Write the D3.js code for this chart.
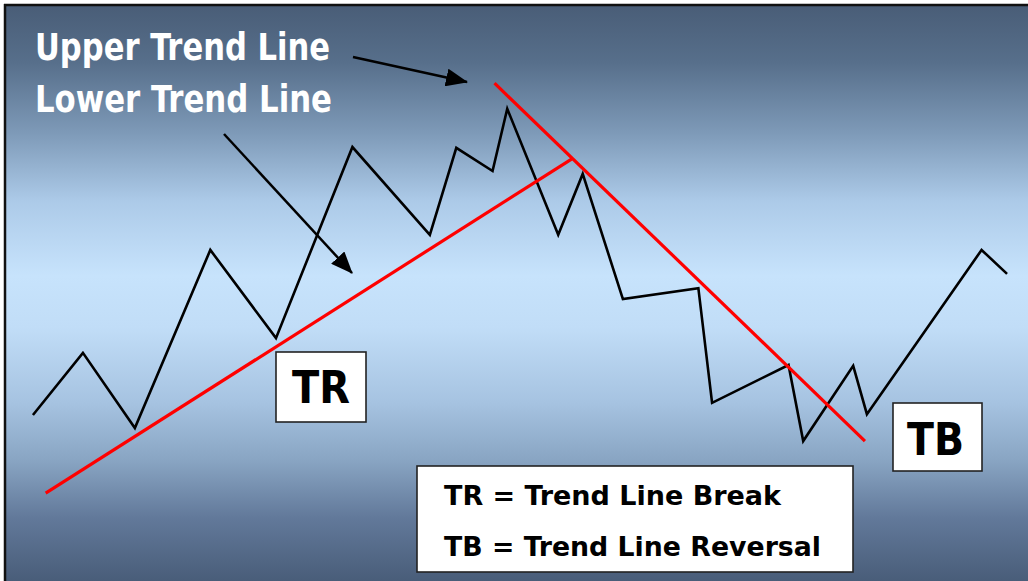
<!DOCTYPE html>
<html>
<head>
<meta charset="utf-8">
<script src="https://cdn.jsdelivr.net/npm/d3@7"></script>
<style>
  html, body { margin: 0; padding: 0; background: #fff; }
  svg { display: block; }
  .label { font-family: "DejaVu Sans Condensed", "DejaVu Sans", Verdana, sans-serif; font-weight: bold; }
</style>
</head>
<body>
<div id="chart"></div>
<script>
  // price path (time units, price units)
  const priceX = [0.3, 5.4, 10.7, 18.4, 25.1, 32.9, 40.8, 43.5, 47.2, 48.7, 53.9, 56.4, 60.5, 68.2, 69.6, 77.4, 78.9, 84.0, 85.4, 97.1, 99.7];
  const priceY = [25.0, 39.8, 21.9, 64.3, 43.3, 88.8, 67.9, 88.6, 83.1, 97.9, 67.9, 82.4, 52.6, 55.2, 27.9, 36.9, 18.8, 36.7, 25.2, 64.3, 58.6];

  // trend lines: [x0, y0, x1, y1]
  const lowerTrend = [1.6, 6.4, 55.3, 86.0];
  const upperTrend = [47.4, 104.0, 85.2, 18.8];

  const labelNames = ["Upper Trend Line", "Lower Trend Line"];
  const signalNames = ["TR", "TB"];
  const legendLines = ["TR = Trend Line Break", "TB = Trend Line Reversal"];

  const W = 1028, H = 581;

  const x = d3.scaleLinear().domain([0, 100]).range([30, 1010]);
  const y = d3.scaleLinear().domain([0, 100]).range([520, 100]);

  const svg = d3.select("#chart").append("svg")
    .attr("width", W)
    .attr("height", H);

  const defs = svg.append("defs");

  // background: dark slate at top and bottom, pale blue in the middle
  const grad = defs.append("linearGradient")
    .attr("id", "bg")
    .attr("x1", 0).attr("y1", 0).attr("x2", 0).attr("y2", 1);
  [
    [0, "#495d77"],
    [0.1, "#576f8b"],
    [0.22, "#7d99b7"],
    [0.34, "#accae8"],
    [0.47, "#c7e3fc"],
    [0.56, "#c1ddf7"],
    [0.69, "#a6c3e1"],
    [0.79, "#89a5c3"],
    [0.89, "#62799a"],
    [1, "#495d79"]
  ].forEach(s => grad.append("stop").attr("offset", s[0]).attr("stop-color", s[1]));

  defs.append("marker")
    .attr("id", "head")
    .attr("markerUnits", "userSpaceOnUse")
    .attr("viewBox", "0 0 22 18")
    .attr("refX", 21).attr("refY", 9)
    .attr("markerWidth", 22).attr("markerHeight", 18)
    .attr("orient", "auto")
    .append("path")
    .attr("d", "M0,0 L22,9 L0,18 Z")
    .attr("fill", "#000");

  svg.append("rect")
    .attr("x", 5).attr("y", 5)
    .attr("width", W - 5).attr("height", H - 5)
    .attr("fill", "url(#bg)");

  // frame (top and left edges only are visible)
  svg.append("line").attr("x1", 4).attr("x2", W).attr("y1", 5).attr("y2", 5)
    .attr("stroke", "#111").attr("stroke-width", 2.5);
  svg.append("line").attr("x1", 5).attr("x2", 5).attr("y1", 4).attr("y2", H)
    .attr("stroke", "#111").attr("stroke-width", 2.5);

  // price zigzag
  const pts = priceX.map((d, i) => [d, priceY[i]]);
  svg.append("path")
    .attr("d", d3.line().x(d => x(d[0])).y(d => y(d[1]))(pts))
    .attr("fill", "none")
    .attr("stroke", "#000")
    .attr("stroke-width", 2.6)
    .attr("stroke-linejoin", "miter");

  // red trend lines
  [lowerTrend, upperTrend].forEach(t => {
    svg.append("line")
      .attr("x1", x(t[0])).attr("y1", y(t[1]))
      .attr("x2", x(t[2])).attr("y2", y(t[3]))
      .attr("stroke", "#ff0000")
      .attr("stroke-width", 3.2);
  });

  // labels top-left
  const labelLayout = [
    { x: 35, y: 60, w: 295 },
    { x: 35, y: 112, w: 297 }
  ];
  labelNames.forEach((t, i) => {
    svg.append("text")
      .attr("class", "label")
      .attr("x", labelLayout[i].x)
      .attr("y", labelLayout[i].y)
      .attr("font-size", 37)
      .attr("fill", "#fff")
      .attr("textLength", labelLayout[i].w)
      .attr("lengthAdjust", "spacingAndGlyphs")
      .text(t);
  });

  // arrows from labels to the trend lines
  const arrows = [
    { from: [353, 57], to: [467, 82] },
    { from: [224, 134], to: [352, 273] }
  ];
  arrows.forEach(a => {
    svg.append("line")
      .attr("x1", a.from[0]).attr("y1", a.from[1])
      .attr("x2", a.to[0]).attr("y2", a.to[1])
      .attr("stroke", "#000")
      .attr("stroke-width", 2.5)
      .attr("marker-end", "url(#head)");
  });

  // TR / TB boxes
  const boxLayout = [
    { x: 276, y: 352, w: 90, h: 70, tx: 292, ty: 403, tw: 58 },
    { x: 893, y: 403, w: 89, h: 68, tx: 907, ty: 455, tw: 57 }
  ];
  signalNames.forEach((t, i) => {
    const b = boxLayout[i];
    svg.append("rect")
      .attr("x", b.x).attr("y", b.y)
      .attr("width", b.w).attr("height", b.h)
      .attr("fill", "#fff")
      .attr("stroke", "#222")
      .attr("stroke-width", 1.6);
    svg.append("text")
      .attr("class", "label")
      .attr("x", b.tx).attr("y", b.ty)
      .attr("font-size", 44)
      .attr("fill", "#000")
      .attr("textLength", b.tw)
      .attr("lengthAdjust", "spacingAndGlyphs")
      .text(t);
  });

  // legend box
  svg.append("rect")
    .attr("x", 417).attr("y", 466)
    .attr("width", 436).attr("height", 106)
    .attr("fill", "#fff")
    .attr("stroke", "#222")
    .attr("stroke-width", 1.6);

  const legendLayout = [
    { y: 505, w: 337 },
    { y: 556, w: 377 }
  ];
  legendLines.forEach((t, i) => {
    svg.append("text")
      .attr("class", "label")
      .attr("x", 444)
      .attr("y", legendLayout[i].y)
      .attr("font-size", 26)
      .attr("fill", "#000")
      .attr("textLength", legendLayout[i].w)
      .attr("lengthAdjust", "spacingAndGlyphs")
      .text(t);
  });
</script>
</body>
</html>
